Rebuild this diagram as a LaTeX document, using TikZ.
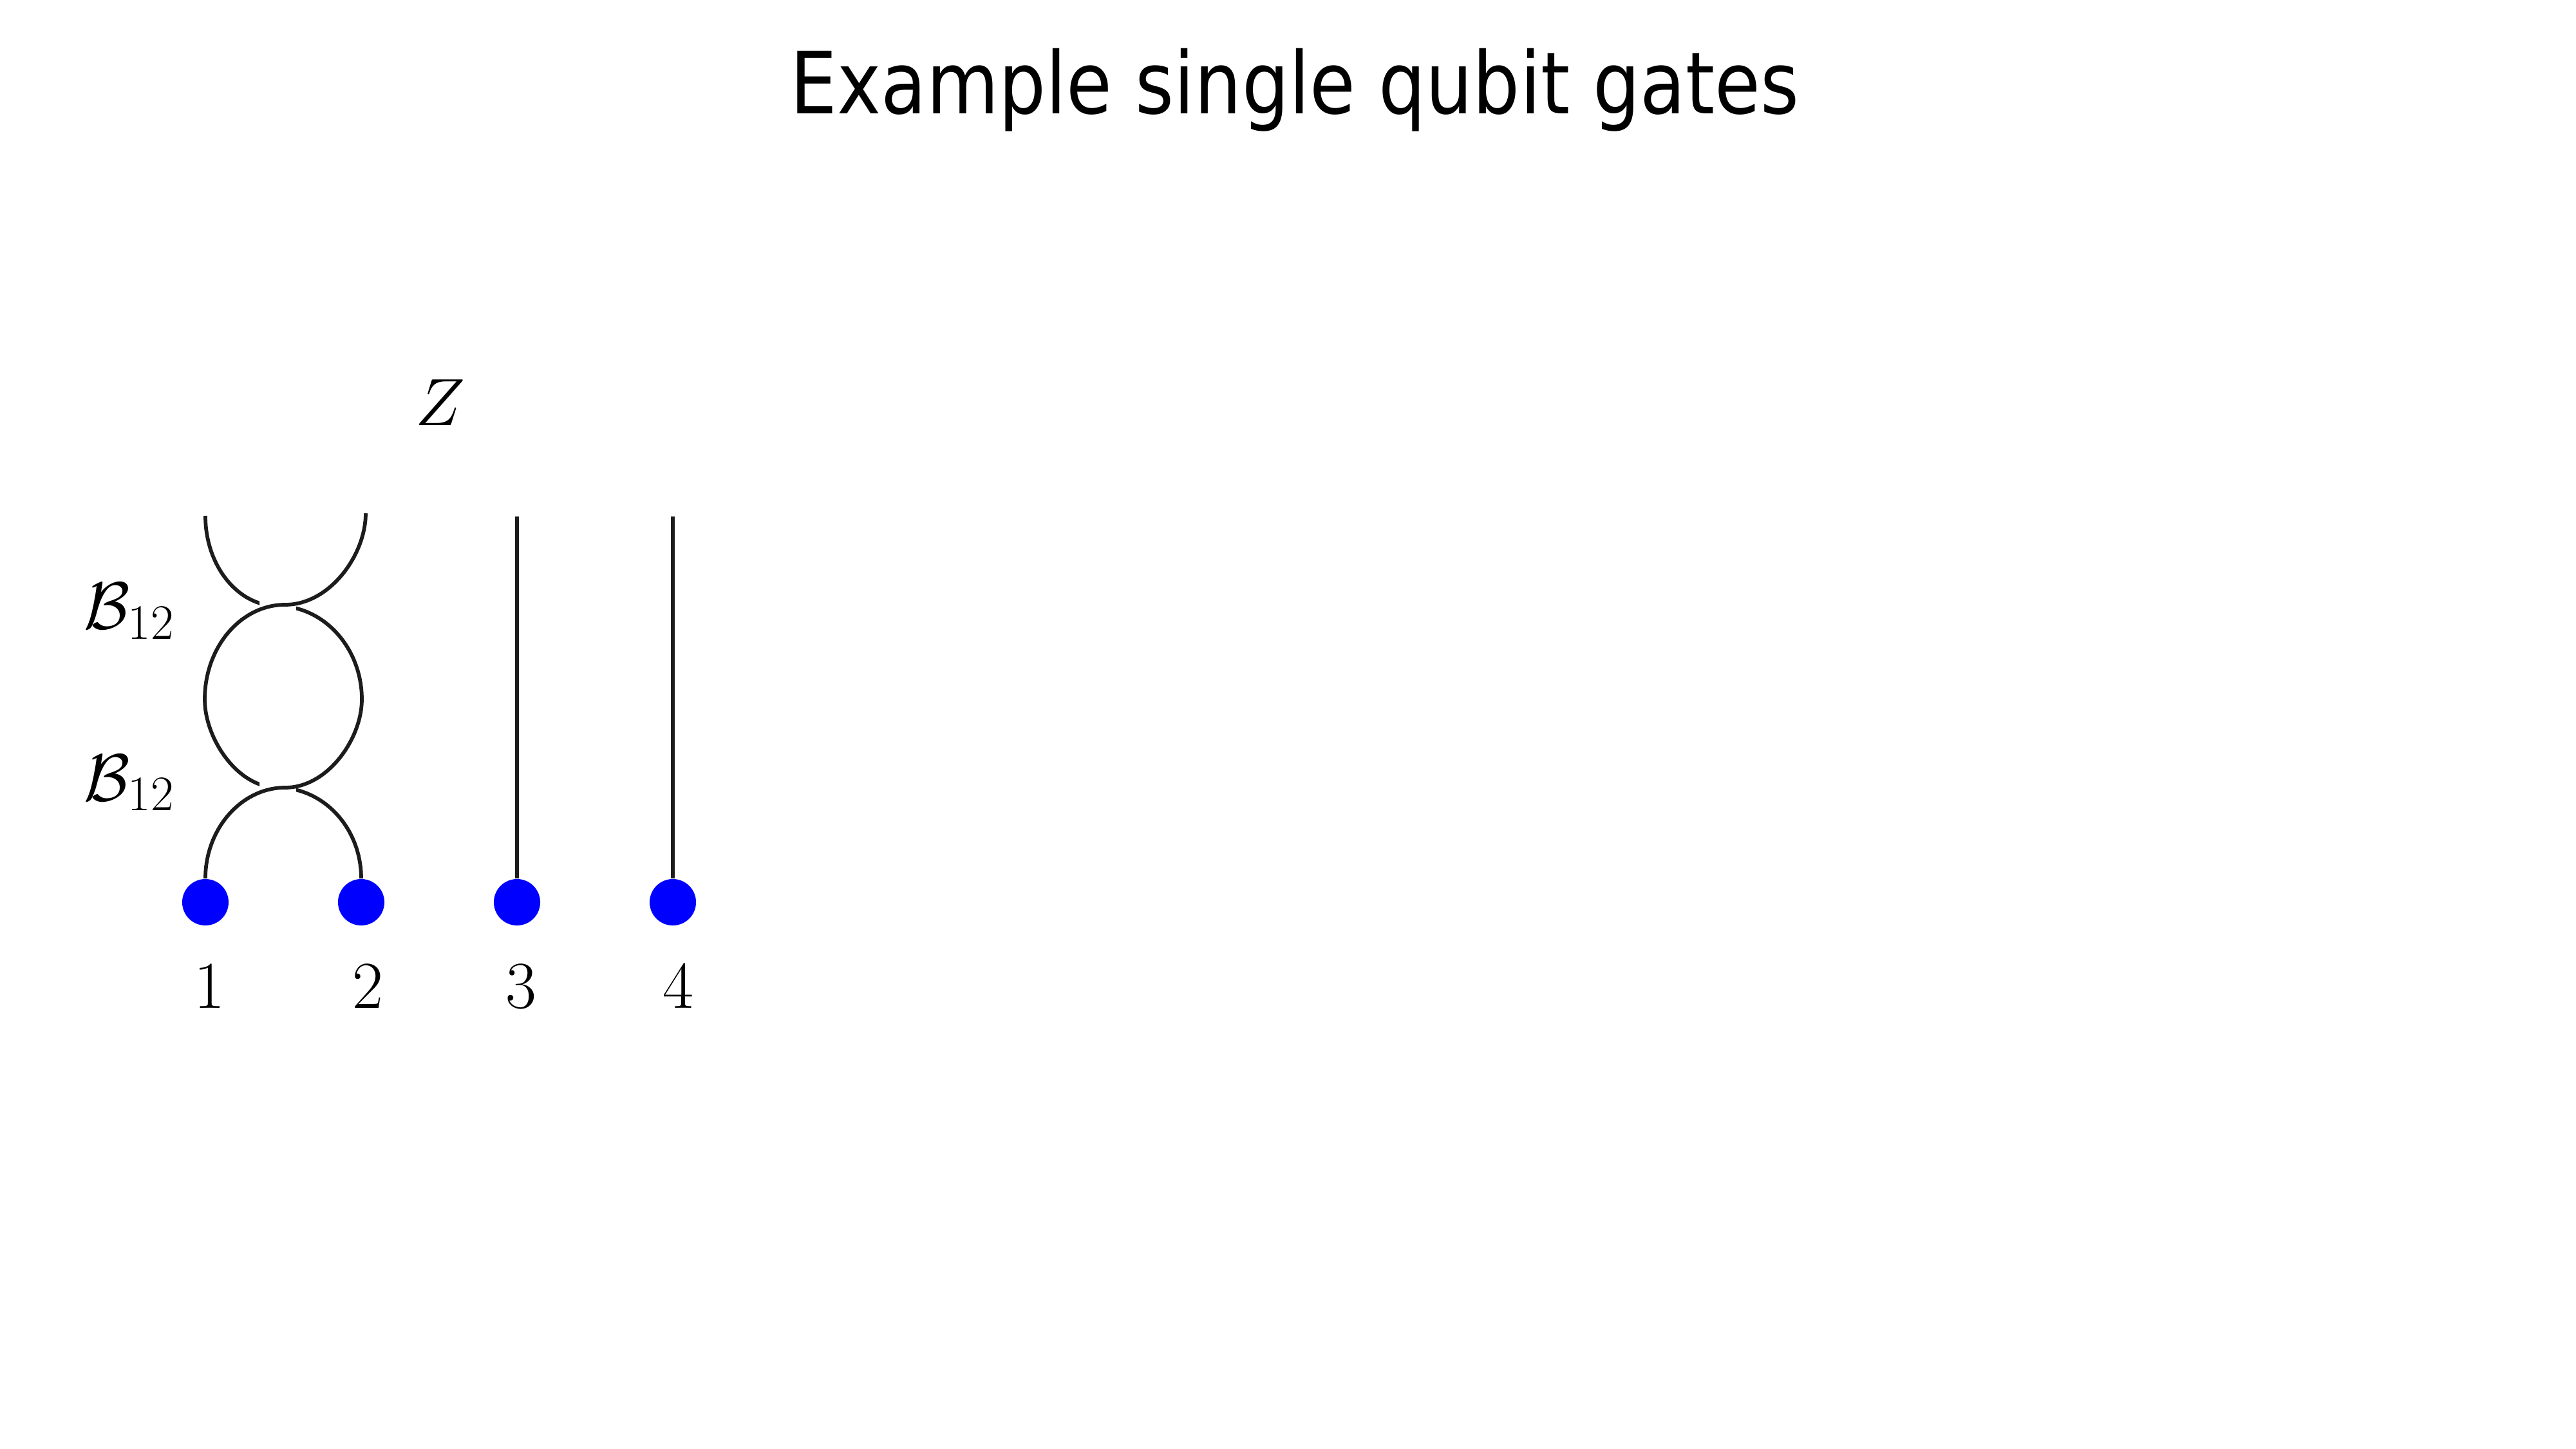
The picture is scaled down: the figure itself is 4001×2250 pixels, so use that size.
\documentclass[tikz,border=0pt]{standalone}
\usepackage{fontspec}
\newfontfamily\titlefont{DejaVu Sans}
\definecolor{dotblue}{RGB}{0,0,255}
\definecolor{strandc}{RGB}{28,28,28}
\newcommand{\subtwelve}{\mbox{\fontsize{18.5}{20}\selectfont 12}}
\begin{document}
\begin{tikzpicture}[x=0.24pt,y=-0.24pt,
  strand/.style={line width=1.38pt, draw=strandc},
  dot/.style={circle, fill=dotblue, inner sep=0pt, minimum size=17.3pt},
  numlab/.style={anchor=base, inner sep=0pt, font=\fontsize{25}{30}\selectfont},
  blab/.style={anchor=base west, inner sep=0pt, font=\fontsize{25}{30}\selectfont}]
\useasboundingbox (0,0) rectangle (4001,2250);
\fill[white] (0,0) rectangle (4001,2250);

% title
\node[anchor=base, inner sep=0pt] (title) at (2011,177)
  {\scalebox{0.864}[1]{\titlefont\fontsize{32}{38}\selectfont Example single qubit gates}};

% qubit dots
\node[dot] (q1) at (319,1401) {};
\node[dot] (q2) at (561,1401) {};
\node[dot] (q3) at (803,1401) {};
\node[dot] (q4) at (1045,1401) {};

% strand end points
\coordinate (t1) at (319,801);
\coordinate (t2) at (568,797);
\coordinate (t3) at (803,802);
\coordinate (t4) at (1045,802);
\coordinate (m1) at (318,1086);
\coordinate (m2) at (562,1086);

% lower crossing: over strand
\draw[strand] (q1.north) .. controls (319,1287) and (375,1223) .. (443,1223)
  .. controls (509,1223) and (562,1147) .. (m2);
% lower crossing: under strand
\begin{scope}[even odd rule]
  \clip (0,0) rectangle (4001,2250) (403,1195) rectangle (460,1250);
  \draw[strand] (q2.north) .. controls (561,1286) and (503,1223) .. (431,1223)
    .. controls (369,1223) and (318,1147) .. (m1);
\end{scope}

% upper crossing: over strand
\draw[strand] (m1) .. controls (318,1005) and (374,939) .. (443,939)
  .. controls (512,939) and (568,862) .. (t2);
% upper crossing: under strand
\begin{scope}[even odd rule]
  \clip (0,0) rectangle (4001,2250) (403,912) rectangle (460,968);
  \draw[strand] (t1) .. controls (319,878) and (369,941) .. (431,941)
    .. controls (503,941) and (562,1006) .. (m2);
\end{scope}

% straight strands
\draw[strand] (t3) -- (q3.north);
\draw[strand] (t4) -- (q4.north);

% labels
\node[anchor=base, inner sep=0pt, font=\fontsize{32}{38}\selectfont] (zlab) at (684,661) {$Z$};
\node[blab] (b1) at (130,977) {$\mathcal{B}_{\subtwelve}$};
\node[blab] (b2) at (130,1243) {$\mathcal{B}_{\subtwelve}$};
\node[numlab] (n1) at (325,1565) {1};
\node[numlab] (n2) at (571,1565) {2};
\node[numlab] (n3) at (809,1565) {3};
\node[numlab] (n4) at (1053,1565) {4};
\end{tikzpicture}
\end{document}
